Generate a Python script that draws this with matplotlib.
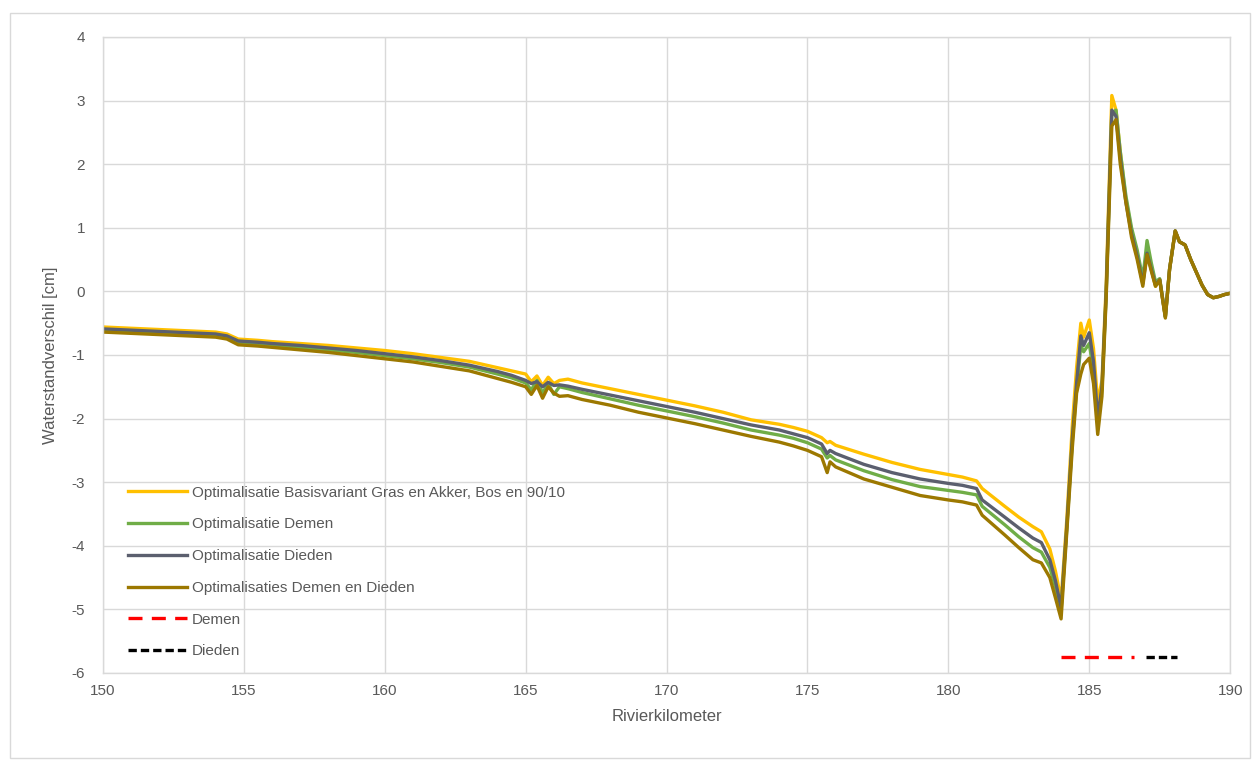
import matplotlib
matplotlib.use('Agg')
import matplotlib.pyplot as plt
from matplotlib.patches import Rectangle

plt.rcParams['font.family'] = ['Liberation Sans', 'DejaVu Sans']
plt.rcParams['axes.unicode_minus'] = False

# river km positions
km = [150, 151, 152, 153, 154, 154.4, 154.8, 155.5, 156, 157, 158, 159, 160, 161, 162, 163,
      164, 164.5, 165, 165.2, 165.4, 165.6, 165.8, 166.0, 166.2, 166.5, 167, 168, 169, 170,
      171, 172, 173, 174, 174.5, 175, 175.5, 175.7, 175.8, 176, 177, 178, 179, 180, 180.5,
      181, 181.2, 182, 182.5, 183, 183.3, 183.6, 183.8, 184.0, 184.2, 184.4, 184.55, 184.7,
      184.8, 185.0, 185.15, 185.3, 185.45, 185.6, 185.8, 185.95, 186.1, 186.3, 186.5, 186.7,
      186.9, 187.05, 187.2, 187.35, 187.5, 187.7, 187.85, 188.05, 188.2, 188.4, 188.6, 188.8,
      189.0, 189.2, 189.4, 189.6, 189.8, 190]

basis = [-0.56, -0.58, -0.60, -0.62, -0.64, -0.67, -0.75, -0.77, -0.79, -0.82, -0.85, -0.89,
         -0.93, -0.98, -1.04, -1.10, -1.20, -1.25, -1.30, -1.42, -1.33, -1.48, -1.35, -1.45,
         -1.40, -1.38, -1.44, -1.53, -1.62, -1.71, -1.80, -1.90, -2.02, -2.09, -2.14, -2.20,
         -2.30, -2.38, -2.36, -2.42, -2.56, -2.69, -2.80, -2.88, -2.92, -2.98, -3.10, -3.38,
         -3.55, -3.70, -3.78, -4.05, -4.40, -4.85, -3.60, -2.10, -1.20, -0.50, -0.72, -0.45,
         -0.90, -1.75, -1.40, 0.10, 3.08, 2.85, 2.20, 1.45, 0.95, 0.55, 0.15, 0.62, 0.35, 0.08,
         0.18, -0.40, 0.35, 0.95, 0.78, 0.73, 0.50, 0.30, 0.10, -0.05, -0.10, -0.08, -0.05, -0.03]

demen = [-0.61, -0.63, -0.65, -0.67, -0.69, -0.72, -0.80, -0.82, -0.84, -0.88, -0.92, -0.96,
         -1.01, -1.06, -1.12, -1.19, -1.30, -1.36, -1.44, -1.55, -1.40, -1.60, -1.45, -1.62,
         -1.50, -1.53, -1.59, -1.69, -1.79, -1.88, -1.97, -2.07, -2.18, -2.26, -2.31, -2.38,
         -2.48, -2.62, -2.58, -2.65, -2.82, -2.96, -3.07, -3.13, -3.16, -3.20, -3.38, -3.67,
         -3.86, -4.03, -4.10, -4.34, -4.65, -5.02, -3.75, -2.35, -1.55, -0.85, -0.95, -0.82,
         -1.25, -2.10, -1.55, -0.05, 2.80, 2.85, 2.20, 1.50, 1.00, 0.65, 0.20, 0.80, 0.45, 0.15,
         0.20, -0.40, 0.35, 0.95, 0.78, 0.73, 0.50, 0.30, 0.10, -0.05, -0.10, -0.08, -0.05, -0.03]

dieden = [-0.59, -0.61, -0.63, -0.65, -0.67, -0.70, -0.78, -0.80, -0.82, -0.85, -0.89, -0.93,
          -0.98, -1.03, -1.09, -1.16, -1.26, -1.32, -1.40, -1.45, -1.42, -1.50, -1.43, -1.48,
          -1.47, -1.49, -1.54, -1.63, -1.72, -1.81, -1.90, -2.00, -2.10, -2.18, -2.24, -2.30,
          -2.40, -2.55, -2.50, -2.55, -2.72, -2.85, -2.95, -3.02, -3.05, -3.10, -3.28, -3.55,
          -3.72, -3.88, -3.95, -4.22, -4.55, -4.98, -3.70, -2.30, -1.45, -0.70, -0.85, -0.65,
          -1.10, -2.00, -1.50, 0.00, 2.85, 2.75, 2.10, 1.40, 0.90, 0.55, 0.12, 0.60, 0.35, 0.10,
          0.18, -0.40, 0.35, 0.95, 0.78, 0.73, 0.50, 0.30, 0.10, -0.05, -0.10, -0.08, -0.05, -0.03]

demen_dieden = [-0.64, -0.66, -0.68, -0.70, -0.72, -0.75, -0.84, -0.86, -0.88, -0.92, -0.96,
                -1.01, -1.06, -1.11, -1.18, -1.25, -1.37, -1.43, -1.50, -1.62, -1.48, -1.68,
                -1.50, -1.60, -1.65, -1.64, -1.70, -1.79, -1.90, -1.99, -2.08, -2.18, -2.28,
                -2.37, -2.43, -2.50, -2.60, -2.85, -2.68, -2.76, -2.95, -3.08, -3.21, -3.28,
                -3.31, -3.36, -3.52, -3.83, -4.03, -4.22, -4.27, -4.50, -4.82, -5.15, -3.80,
                -2.45, -1.60, -1.30, -1.15, -1.05, -1.45, -2.25, -1.65, -0.10, 2.60, 2.70, 2.00,
                1.40, 0.85, 0.50, 0.08, 0.58, 0.32, 0.08, 0.18, -0.42, 0.35, 0.95, 0.78, 0.73,
                0.50, 0.30, 0.10, -0.05, -0.10, -0.08, -0.05, -0.03]

# extent of the measures
demen_km = [184.0, 186.6]
dieden_km = [187.0, 188.1]
marker_level = -5.75

fig = plt.figure(figsize=(12.54, 7.61), dpi=100)
ax = fig.add_axes([0.0821, 0.1157, 0.8989, 0.8357])

lw = 2.4
ax.plot(km, basis, color='#FFC000', lw=lw, label='Optimalisatie Basisvariant Gras en Akker, Bos en 90/10')
ax.plot(km, demen, color='#70AD47', lw=lw, label='Optimalisatie Demen')
ax.plot(km, dieden, color='#5B5F6E', lw=lw, label='Optimalisatie Dieden')
ax.plot(km, demen_dieden, color='#9C7800', lw=lw, label='Optimalisaties Demen en Dieden')
ax.plot(demen_km, [marker_level] * 2, color='#FF0000', lw=lw, dashes=(4.2, 2.8), label='Demen')
ax.plot(dieden_km, [marker_level] * 2, color='#000000', lw=lw, dashes=(2.5, 1.2), label='Dieden')

ax.set_xlim(150, 190)
ax.set_ylim(-6, 4)
ax.set_xticks(range(150, 191, 5))
ax.set_yticks(range(-6, 5))
ax.grid(True, color='#D9D9D9', lw=1.0)
ax.set_axisbelow(True)
for s in ax.spines.values():
    s.set_color('#D9D9D9')
    s.set_linewidth(1.0)
ax.tick_params(length=0, labelsize=11, labelcolor='#595959')
ax.tick_params(axis='y', pad=13)
ax.tick_params(axis='x', pad=8)

ax.set_xlabel('Rivierkilometer', fontsize=12, color='#595959', labelpad=8)
ax.set_ylabel('Waterstandverschil [cm]', fontsize=12, color='#595959', labelpad=10)

leg = ax.legend(loc='lower left', bbox_to_anchor=(0.022, 0.023), frameon=False,
                fontsize=11, labelcolor='#595959', handlelength=3.9, handletextpad=0.3,
                labelspacing=1.16, borderpad=0, borderaxespad=0)

# outer chart border
fig.patches.append(Rectangle((0.008, 0.004), 0.989, 0.979, transform=fig.transFigure,
                             fill=False, edgecolor='#D9D9D9', lw=1.0))

fig.savefig('out.png', dpi=100)
